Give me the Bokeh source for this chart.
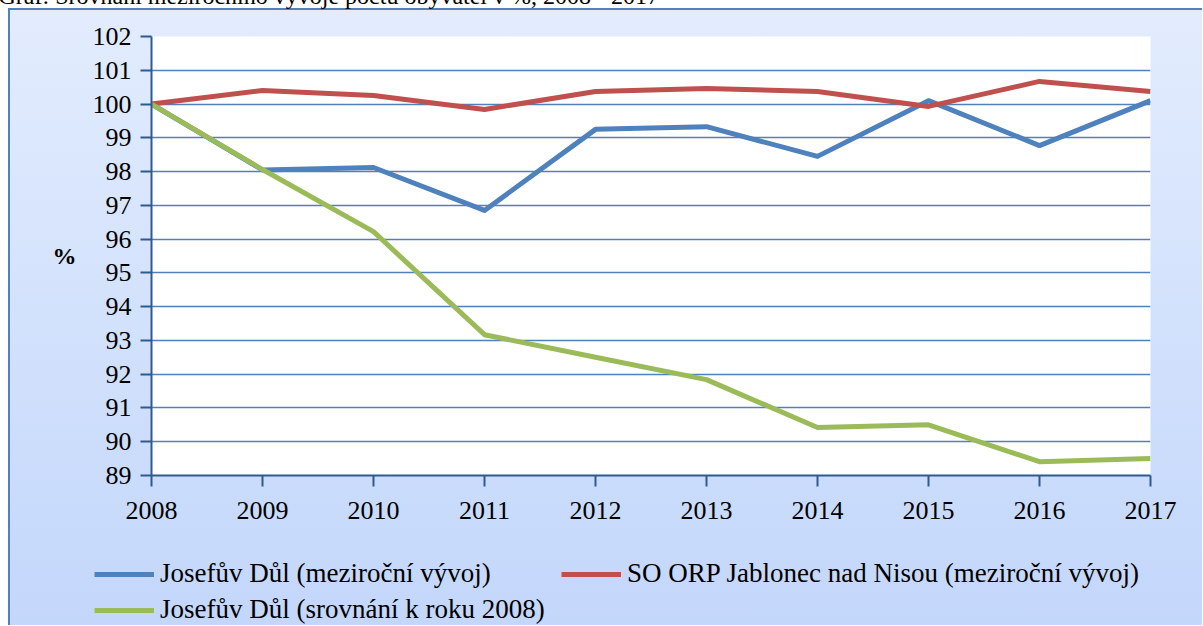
from bokeh.plotting import figure
from bokeh.models import FixedTicker, Legend, LegendItem, Range1d, Title
from bokeh.embed import file_html
from bokeh.resources import INLINE

years = [2008, 2009, 2010, 2011, 2012, 2013, 2014, 2015, 2016, 2017]
josefuv_mezirocni = [100.0, 98.05, 98.12, 96.85, 99.25, 99.33, 98.45, 100.1, 98.77, 100.1]
orp_mezirocni = [100.0, 100.4, 100.25, 99.84, 100.37, 100.46, 100.37, 99.93, 100.67, 100.37]
josefuv_2008 = [100.0, 98.06, 96.22, 93.17, 92.5, 91.84, 90.42, 90.5, 89.41, 89.5]
y_ticks = list(range(89, 103))
series_names = [
    "Josefův Důl (meziroční vývoj)",
    "SO ORP Jablonec nad Nisou (meziroční vývoj)",
    "Josefův Důl (srovnání k roku 2008)",
]
series_values = [josefuv_mezirocni, orp_mezirocni, josefuv_2008]
series_colors = ["#4f81bd", "#c0504d", "#9bbb59"]
title_text = "Graf: Srovnání meziročního vývoje počtu obyvatel v %, 2008 - 2017"

FONT = "Liberation Serif"
W = 1203
CHART_H = 597
LEG_H = 76
GRAD = "linear-gradient(#e2ecfd, #c3d7fb)"
EDGE = "linear-gradient(#4f81bd,#4f81bd)"

chart = figure(
    width=W, height=CHART_H,
    x_range=Range1d(2008, 2017), y_range=Range1d(89, 102),
    output_backend="svg", toolbar_location=None,
    min_border_left=152, min_border_right=52, min_border_top=84, min_border_bottom=74,
)
chart.styles = {
    "margin": "-48px -8px 0px -1px",
    "background": (
        f"{EDGE} 9px 56px / 2px 100% no-repeat, "
        f"{EDGE} 9px 56px / 100% 2px no-repeat, "
        f"{GRAD} 10px 57px / 100% 616px no-repeat, #ffffff"
    ),
}
chart.border_fill_color = None
chart.background_fill_color = "white"
chart.outline_line_color = None

chart.title = Title(text=title_text, align="left", offset=-153, standoff=56,
                    vertical_align="bottom",
                    text_font=FONT, text_font_size="24px", text_font_style="normal",
                    text_color="black")

chart.xgrid.grid_line_color = None
chart.ygrid.grid_line_color = "#4f81bd"
chart.ygrid.grid_line_width = 1.5

for ax in (chart.xaxis[0], chart.yaxis[0]):
    ax.axis_line_color = "#2f5a8f"
    ax.axis_line_width = 2
    ax.major_tick_line_color = "#2f5a8f"
    ax.major_tick_line_width = 2
    ax.major_tick_in = 0
    ax.major_tick_out = 11
    ax.minor_tick_line_color = None
    ax.major_label_text_font = FONT
    ax.major_label_text_font_size = "26px"
    ax.major_label_text_color = "black"
    ax.major_label_standoff = 9

chart.xaxis[0].major_label_standoff = 15
chart.xaxis[0].ticker = FixedTicker(ticks=years)
chart.yaxis[0].ticker = FixedTicker(ticks=y_ticks)

chart.yaxis[0].axis_label = "%"
chart.yaxis[0].axis_label_orientation = "horizontal"
chart.yaxis[0].axis_label_text_font = FONT
chart.yaxis[0].axis_label_text_font_size = "24px"
chart.yaxis[0].axis_label_text_font_style = "bold"
chart.yaxis[0].axis_label_text_color = "black"
chart.yaxis[0].axis_label_standoff = 13
chart.yaxis[0].axis_label_text_baseline = "top"

for vals, col in zip(series_values, series_colors):
    chart.line(years, vals, line_color=col, line_width=5, line_join="round")

# legend strip below the chart (its lines lie outside its view; only the legend shows)
leg_fig = figure(
    width=W, height=LEG_H, x_range=Range1d(0, 1), y_range=Range1d(0, 1),
    output_backend="svg", toolbar_location=None,
    x_axis_location=None, y_axis_location=None, min_border=0,
)
leg_fig.styles = {
    "margin": "0px -8px -8px -1px",
    "background": (
        f"{EDGE} 9px 0px / 2px 100% no-repeat, "
        f"{GRAD} 10px -540px / 100% 616px no-repeat, #ffffff"
    ),
}
leg_fig.border_fill_color = None
leg_fig.background_fill_color = None
leg_fig.outline_line_color = None
leg_fig.grid.visible = False

proxies = [leg_fig.line(years, vals, line_color=col, line_width=5)
           for vals, col in zip(series_values, series_colors)]

legend = Legend(
    items=[LegendItem(label=n, renderers=[r]) for n, r in zip(series_names, proxies)],
    location=(95, 0), orientation="horizontal", ncols=2,
    background_fill_alpha=0, border_line_color=None,
    label_text_font=FONT, label_text_font_size="27px", label_text_color="black",
    glyph_width=60, glyph_height=30, spacing=5, padding=0, margin=0,
    label_standoff=6, label_width=396,
)
leg_fig.add_layout(legend, "center")

open("out.html", "w").write(file_html([chart, leg_fig], INLINE))
